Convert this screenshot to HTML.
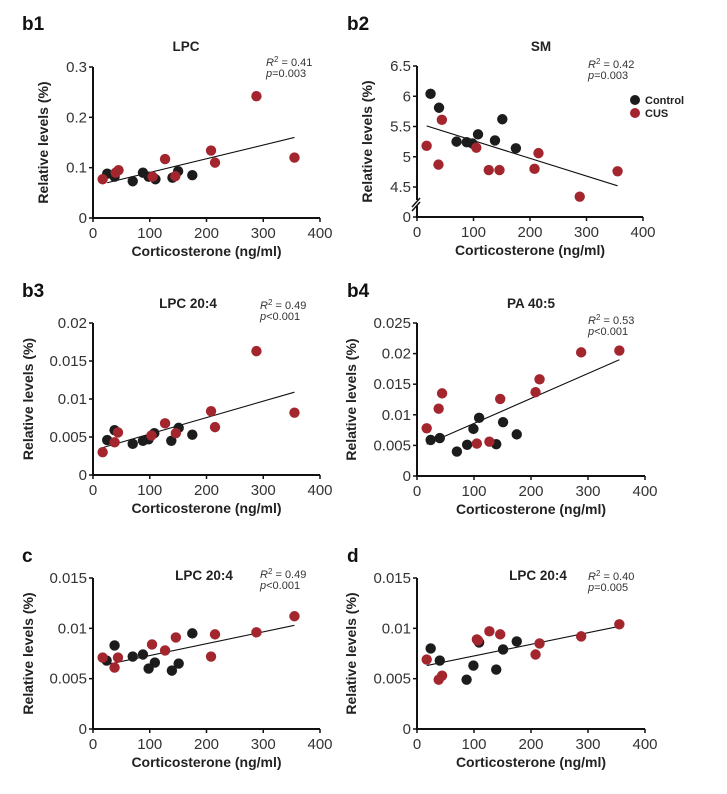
<!DOCTYPE html>
<html><head><meta charset="utf-8"><style>
body{margin:0;background:#fff;width:727px;height:794px;overflow:hidden}
svg{display:block;font-family:"Liberation Sans",Arial,sans-serif}
</style></head><body>
<svg id="fig" width="727" height="794"></svg>
<script>
const xCat=[0,100,200,300,400];
// b1 LPC
const b1CtlX=[25,38,70,88,98,110,140,150,175];
const b1CtlY=[0.088,0.082,0.073,0.09,0.082,0.077,0.08,0.093,0.085];
const b1CusX=[17,40,45,105,127,145,208,215,288,355];
const b1CusY=[0.077,0.09,0.095,0.082,0.117,0.083,0.134,0.11,0.242,0.12];
const b1Fit=[25,0.07,355,0.16];
const b1Ticks=[0,0.1,0.2,0.3];
const b1TickLabels=["0","0.1","0.2","0.3"];
// b2 SM
const b2CtlX=[24,39,70,88,98,108,138,151,175];
const b2CtlY=[6.04,5.81,5.25,5.24,5.22,5.37,5.27,5.62,5.14];
const b2CusX=[17,38,44,105,127,146,208,215,288,355];
const b2CusY=[5.18,4.87,5.61,5.15,4.78,4.78,4.80,5.06,4.34,4.76];
const b2Fit=[17,5.51,355,4.52];
const b2Ticks=[4.5,5,5.5,6,6.5];
const b2TickLabels=["4.5","5","5.5","6","6.5"];
// b3 LPC 20:4
const b3CtlX=[25,38,70,88,98,108,138,151,175];
const b3CtlY=[0.0046,0.0059,0.0041,0.0045,0.0047,0.0055,0.0045,0.0062,0.0053];
const b3CusX=[17,38,44,103,127,146,208,215,288,355];
const b3CusY=[0.0030,0.0043,0.0056,0.0052,0.0068,0.0055,0.0084,0.0063,0.0163,0.0082];
const b3Fit=[17,0.0036,355,0.0109];
const b3Ticks=[0,0.005,0.01,0.015,0.02];
const b3TickLabels=["0","0.005","0.01","0.015","0.02"];
// b4 PA 40:5
const b4CtlX=[24,40,70,88,99,109,151,139,175];
const b4CtlY=[0.0059,0.0062,0.0040,0.0051,0.0077,0.0095,0.0088,0.0052,0.0068];
const b4CusX=[17,38,44,105,127,146,208,215,288,355];
const b4CusY=[0.0078,0.011,0.0135,0.0053,0.0056,0.0126,0.0137,0.0158,0.0202,0.0205];
const b4Fit=[17,0.0052,355,0.019];
const b4Ticks=[0,0.005,0.01,0.015,0.02,0.025];
const b4TickLabels=["0","0.005","0.01","0.015","0.02","0.025"];
// c LPC 20:4
const cCtlX=[24,38,70,88,98,109,139,151,175];
const cCtlY=[0.0068,0.0083,0.0072,0.0074,0.0060,0.0066,0.0058,0.0065,0.0095];
const cCusX=[17,38,44,104,127,146,208,215,288,355];
const cCusY=[0.0071,0.0061,0.0071,0.0084,0.0078,0.0091,0.0072,0.0094,0.0096,0.0112];
const cFit=[24,0.0064,355,0.0103];
const cTicks=[0,0.005,0.01,0.015];
const cTickLabels=["0","0.005","0.01","0.015"];
// d LPC 20:4
const dCtlX=[24,40,87,99,109,139,151,175];
const dCtlY=[0.008,0.0068,0.0049,0.0063,0.0086,0.0059,0.0079,0.0087];
const dCusX=[17,38,44,105,107,127,146,208,215,288,355];
const dCusY=[0.0069,0.0049,0.0053,0.0089,0.0088,0.0097,0.0094,0.0074,0.0085,0.0092,0.0104];
const dFit=[17,0.0063,355,0.0102];
const dTicks=[0,0.005,0.01,0.015];
const dTickLabels=["0","0.005","0.01","0.015"];

const NS="http://www.w3.org/2000/svg";
const svg=document.getElementById('fig');
function mk(tag,attrs,parent,text){const e=document.createElementNS(NS,tag);for(const k in attrs)e.setAttribute(k,attrs[k]);if(text!==undefined)e.textContent=text;(parent||svg).appendChild(e);return e;}

function panel(p){
  const g=mk('g',{});
  
  
  const sx=v=>p.x0+(v-0)/400*(p.x1-p.x0);
  const sy=v=>p.yBot-(v-p.ymin)/(p.ymax-p.ymin)*(p.yBot-p.yTop);
  const axisBottom=p.zeroY||p.yBot;
  const lab=mk('text',{x:p.lx,y:p.ly,'font-size':19,'font-weight':'bold',fill:'#111'},g,p.id);
  
  
  const t=mk('text',{x:p.tx,y:p.ty,'font-size':13.5,'font-weight':'bold','text-anchor':'middle',fill:'#222'},g,p.title);
  
  
  const ya=mk('line',{x1:p.x0,y1:p.yTop,x2:p.x0,y2:axisBottom,stroke:'#111','stroke-width':2},g);
  
  
  const xa=mk('line',{x1:p.x0-1,y1:axisBottom,x2:p.x1,y2:axisBottom,stroke:'#111','stroke-width':2},g);
  
  
  p.ticks.forEach((v,i)=>{
    const y=sy(v);
    mk('line',{x1:p.x0-4,y1:y,x2:p.x0,y2:y,stroke:'#111','stroke-width':1.5},g);
    const tl=mk('text',{x:p.x0-6,y:y+5,'font-size':15,'text-anchor':'end',fill:'#333'},g,p.tickLabels[i]);
    
    
  });
  if(p.zeroY){
    mk('line',{x1:p.x0-4,y1:p.zeroY,x2:p.x0,y2:p.zeroY,stroke:'#111','stroke-width':1.5},g);
    const zl=mk('text',{x:p.x0-6,y:p.zeroY+5,'font-size':15,'text-anchor':'end',fill:'#333'},g,'0');
    
    
    mk('rect',{x:p.x0-5,y:p.zeroY-17,width:10,height:6,fill:'#fff'},g);
    mk('line',{x1:p.x0-5,y1:p.zeroY-10,x2:p.x0+3,y2:p.zeroY-19,stroke:'#111','stroke-width':1.5},g);
    mk('line',{x1:p.x0-5,y1:p.zeroY-6,x2:p.x0+3,y2:p.zeroY-15,stroke:'#111','stroke-width':1.5},g);
  }
  xCat.forEach(v=>{
    const x=sx(v);
    mk('line',{x1:x,y1:axisBottom,x2:x,y2:axisBottom+4,stroke:'#111','stroke-width':1.5},g);
    const xl=mk('text',{x:x,y:axisBottom+20,'font-size':15,'text-anchor':'middle',fill:'#333'},g,String(v));
    
    
  });
  const xt=mk('text',{x:(p.x0+p.x1)/2,y:axisBottom+38,'font-size':14,'font-weight':'bold','text-anchor':'middle',fill:'#222'},g,'Corticosterone (ng/ml)');
  
  
  const ycy=(p.yTop+axisBottom)/2;
  const yt=mk('text',{x:p.ytx,y:ycy,'font-size':14,'font-weight':'bold','text-anchor':'middle',fill:'#222',transform:`rotate(-90 ${p.ytx} ${ycy})`},g,'Relative levels (%)');
  
  
  const st=mk('text',{x:p.sx,y:p.sy,'font-size':11,fill:'#333'},g);
  mk('tspan',{'font-style':'italic'},st,'R');
  mk('tspan',{'font-size':8,dy:-4},st,'2');
  mk('tspan',{dy:4},st,' = '+p.r2);
  
  
  const pt=mk('text',{x:p.sx,y:p.sy+11,'font-size':11,fill:'#333'},g);
  mk('tspan',{'font-style':'italic'},pt,'p');
  mk('tspan',{},pt,p.pv);
  
  
  const fl=mk('line',{x1:sx(p.fit[0]),y1:sy(p.fit[1]),x2:sx(p.fit[2]),y2:sy(p.fit[3]),stroke:'#111','stroke-width':1.1},g);
  
  
  p.ctlX.forEach((v,i)=>{
    const c=mk('circle',{cx:sx(v),cy:sy(p.ctlY[i]),r:5.2,fill:'#1c1c1c'},g);
    
    
  });
  p.cusX.forEach((v,i)=>{
    const c=mk('circle',{cx:sx(v),cy:sy(p.cusY[i]),r:5.2,fill:'#a3262e'},g);
    
    
  });
}
panel({id:'b1',title:'LPC',lx:22,ly:30,tx:186,ty:51,ytx:48,x0:93,x1:320,yTop:67,yBot:218,ymin:0,ymax:0.3,ticks:b1Ticks,tickLabels:b1TickLabels,ctlX:b1CtlX,ctlY:b1CtlY,cusX:b1CusX,cusY:b1CusY,fit:b1Fit,r2:'0.41',pv:'=0.003',sx:266,sy:66});
panel({id:'b2',title:'SM',lx:347,ly:30,tx:541,ty:51,ytx:372,x0:417,x1:643,yTop:66,yBot:187,zeroY:217,ymin:4.5,ymax:6.5,ticks:b2Ticks,tickLabels:b2TickLabels,ctlX:b2CtlX,ctlY:b2CtlY,cusX:b2CusX,cusY:b2CusY,fit:b2Fit,r2:'0.42',pv:'=0.003',sx:588,sy:68});
panel({id:'b3',title:'LPC 20:4',lx:22,ly:297,tx:188,ty:308,ytx:33,x0:93,x1:320,yTop:323,yBot:475,ymin:0,ymax:0.02,ticks:b3Ticks,tickLabels:b3TickLabels,ctlX:b3CtlX,ctlY:b3CtlY,cusX:b3CusX,cusY:b3CusY,fit:b3Fit,r2:'0.49',pv:'<0.001',sx:260,sy:309});
panel({id:'b4',title:'PA 40:5',lx:347,ly:297,tx:531,ty:308,ytx:356,x0:417,x1:645,yTop:323,yBot:476,ymin:0,ymax:0.025,ticks:b4Ticks,tickLabels:b4TickLabels,ctlX:b4CtlX,ctlY:b4CtlY,cusX:b4CusX,cusY:b4CusY,fit:b4Fit,r2:'0.53',pv:'<0.001',sx:588,sy:324});
panel({id:'c',title:'LPC 20:4',lx:22,ly:562,tx:204,ty:580,ytx:33,x0:93,x1:320,yTop:578,yBot:729,ymin:0,ymax:0.015,ticks:cTicks,tickLabels:cTickLabels,ctlX:cCtlX,ctlY:cCtlY,cusX:cCusX,cusY:cCusY,fit:cFit,r2:'0.49',pv:'<0.001',sx:260,sy:578});
panel({id:'d',title:'LPC 20:4',lx:347,ly:562,tx:538,ty:580,ytx:356,x0:417,x1:645,yTop:578,yBot:729,ymin:0,ymax:0.015,ticks:dTicks,tickLabels:dTickLabels,ctlX:dCtlX,ctlY:dCtlY,cusX:dCusX,cusY:dCusY,fit:dFit,r2:'0.40',pv:'=0.005',sx:588,sy:580});
const lg=mk('g',{});


mk('circle',{cx:635,cy:100,r:5,fill:'#1c1c1c'},lg);
const l1=mk('text',{x:645,y:104,'font-size':11,'font-weight':'bold',fill:'#222'},lg,'Control');


mk('circle',{cx:635,cy:113,r:5,fill:'#a3262e'},lg);
const l2=mk('text',{x:645,y:117,'font-size':11,'font-weight':'bold',fill:'#222'},lg,'CUS');


</script>
</body></html>
